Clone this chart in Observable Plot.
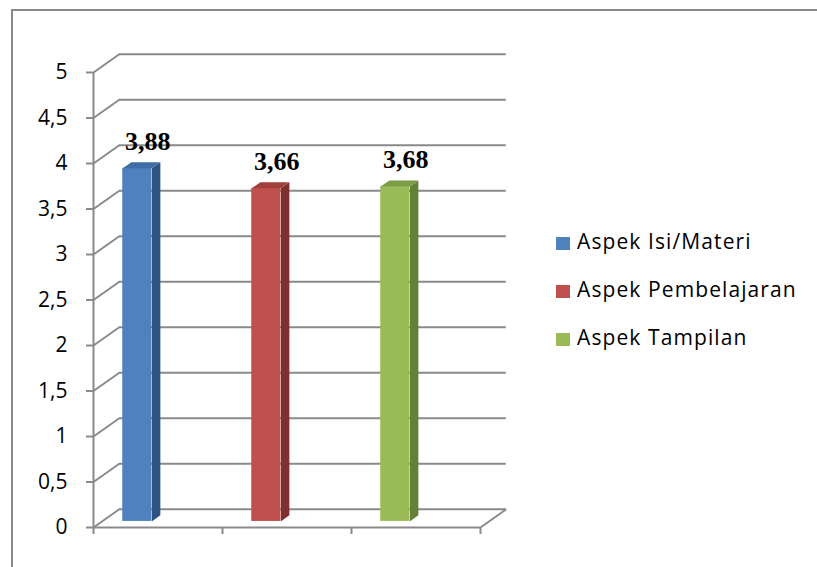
<!DOCTYPE html>
<html><head><meta charset="utf-8">
<script src="https://cdn.jsdelivr.net/npm/d3@7"></script>
<script src="https://cdn.jsdelivr.net/npm/@observablehq/plot@0.6"></script>
<style>
html,body{margin:0;padding:0;background:#fff;}
#wrap{position:relative;width:817px;height:567px;overflow:hidden;background:#fff;}
#frame{position:absolute;left:11px;top:9px;width:900px;height:700px;border-left:2px solid #8a8a8a;border-top:2px solid #8a8a8a;}
#chart{position:absolute;left:0;top:0;}
.leg{position:absolute;left:556px;height:20px;font-family:"Open Sans";font-size:21px;letter-spacing:1.1px;line-height:20px;color:#000;white-space:nowrap;}
.sw{position:absolute;left:0;top:6px;width:14px;height:13px;}
.lt{position:absolute;left:21px;top:0;}
</style></head><body>
<div id="wrap"><div id="frame"></div><div id="chart"></div><div id="legend"></div></div>
<script>
const categories = ["Aspek Isi/Materi", "Aspek Pembelajaran", "Aspek Tampilan"];
const values = [3.88, 3.66, 3.68];
const frontColors = ["#4F81BD", "#C0504D", "#9BBB59"];
const topColors = ["#3E6CA3", "#A2403D", "#7E9C45"];
const sideColors = ["#2F5380", "#7F2F2D", "#647F36"];
const yTicks = [0, 0.5, 1, 1.5, 2, 2.5, 3, 3.5, 4, 4.5, 5];
const yTickLabels = ["0", "0,5", "1", "1,5", "2", "2,5", "3", "3,5", "4", "4,5", "5"];
const xTicks = [0, 1, 2, 3];

// 3D depth of the floor, in data units
const DX = 0.2, DY = 0.2;
const L = 0.16, W = 0.225;      // bar placement inside each category
const f0 = 1 / 3, f1 = 2 / 3;   // bar depth range
const fx = (x, f) => x + DX * f;
const fy = (y, f) => y + DY * f;
const grid = "#8a8a8a";

const bars = categories.map((c, i) => ({i, c, v: values[i]}));
const polys = [];
bars.forEach(({i, v}) => {
  const xl = i + L, xr = i + L + W;
  [[fx(xr, f0), fy(0, f0)], [fx(xr, f1), fy(0, f1)], [fx(xr, f1), fy(v, f1)], [fx(xr, f0), fy(v, f0)]]
    .forEach(([x, y]) => polys.push({id: "s" + i, x, y, color: sideColors[i]}));
  [[fx(xl, f0), fy(v, f0)], [fx(xr, f0), fy(v, f0)], [fx(xr, f1), fy(v, f1)], [fx(xl, f1), fy(v, f1)]]
    .forEach(([x, y]) => polys.push({id: "t" + i, x, y, color: topColors[i]}));
});

const chart = Plot.plot({
  width: 817, height: 567,
  marginLeft: 93, marginRight: 337, marginTop: 72, marginBottom: 40,
  x: {domain: [0, 3], axis: null, label: null},
  y: {domain: [0, 5], axis: null, label: null},
  color: {type: "identity"},
  style: {background: "transparent", fontFamily: "Open Sans", fontSize: "21px", overflow: "visible"},
  marks: [
    Plot.ruleY(yTicks, {y: d => d + DY, x1: () => DX, x2: () => 3 + DX, stroke: grid, strokeWidth: 2}),
    Plot.link(yTicks, {x1: () => 0, y1: d => d, x2: () => DX, y2: d => d + DY, stroke: grid, strokeWidth: 2}),
    Plot.link([3], {x1: d => d, y1: () => 0, x2: d => d + DX, y2: () => DY, stroke: grid, strokeWidth: 2}),
    Plot.ruleY([0], {x1: () => 0, x2: () => 3, stroke: grid, strokeWidth: 2}),
    Plot.ruleX([0], {y1: () => 0, y2: () => 5, stroke: grid, strokeWidth: 2}),
    Plot.axisY({ticks: yTicks, tickFormat: d => yTickLabels[yTicks.indexOf(d)], tickSize: 7, tickPadding: 19, stroke: grid, strokeWidth: 2, fill: "#000", fontSize: 21, label: null}),
    Plot.axisX({ticks: xTicks, tickFormat: () => "", tickSize: 7, stroke: grid, strokeWidth: 2, label: null}),
    Plot.rect(bars, {x1: d => fx(d.i + L, f0), x2: d => fx(d.i + L + W, f0), y1: () => fy(0, f0), y2: d => fy(d.v, f0), fill: d => frontColors[d.i]}),
    Plot.line(polys, {x: "x", y: "y", z: "id", fill: "color", stroke: "none"}),
    Plot.text(bars, {x: d => d.i + 0.42, y: d => fy(d.v, f0), text: d => d.v.toFixed(2).replace(".", ","), dy: -27, fontFamily: "Liberation Serif", fontWeight: "bold", fontSize: 26, fill: "#000"})
  ]
});
document.getElementById("chart").appendChild(chart);

const leg = document.getElementById("legend");
categories.forEach((c, i) => {
  const row = document.createElement("div");
  row.className = "leg";
  row.style.top = (231 + i * 48) + "px";
  row.innerHTML = `<span class="sw" style="background:${frontColors[i]}"></span><span class="lt">${c}</span>`;
  leg.appendChild(row);
});
</script>
</body></html>
